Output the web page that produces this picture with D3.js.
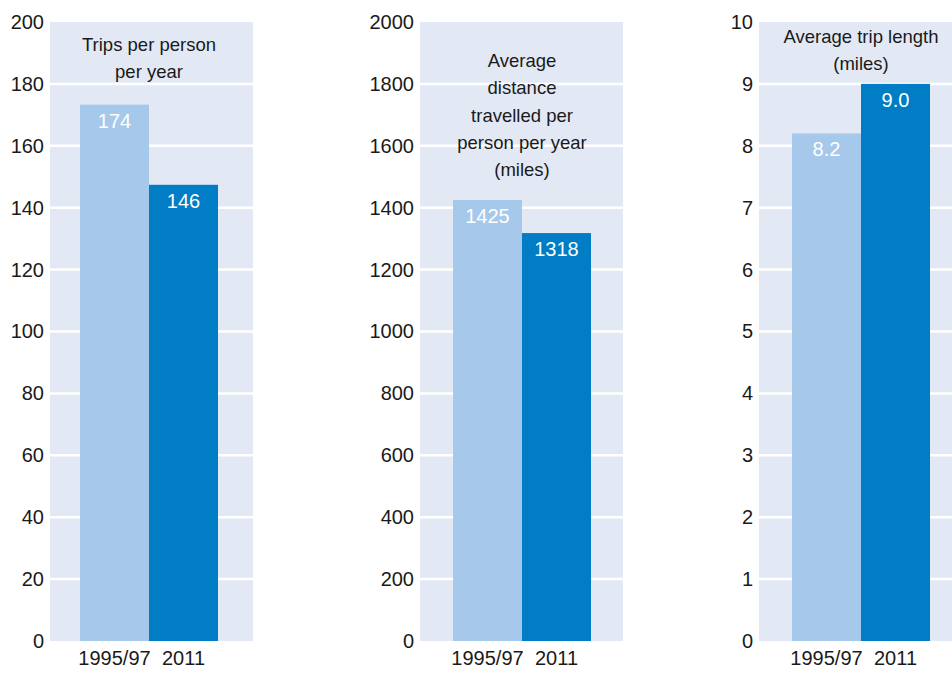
<!DOCTYPE html>
<html>
<head>
<meta charset="utf-8">
<script src="https://cdn.jsdelivr.net/npm/d3@7"></script>
<style>
  body { margin: 0; background: #fff; }
  svg { display: block; font-family: "Liberation Sans", Arial, sans-serif; }
</style>
</head>
<body>
<script>
// data
var categories = ["1995/97", "2011"];
var tripsValues = [173.3, 147.4];
var tripsLabels = ["174", "146"];
var distanceValues = [1425, 1318];
var distanceLabels = ["1425", "1318"];
var lengthValues = [8.2, 9.0];
var lengthLabels = ["8.2", "9.0"];
var tripsTicks = [0, 20, 40, 60, 80, 100, 120, 140, 160, 180, 200];
var distanceTicks = [0, 200, 400, 600, 800, 1000, 1200, 1400, 1600, 1800, 2000];
var lengthTicks = [0, 1, 2, 3, 4, 5, 6, 7, 8, 9, 10];
var tripsTitle = ["Trips per person", "per year"];
var distanceTitle = ["Average", "distance", "travelled per", "person per year", "(miles)"];
var lengthTitle = ["Average trip length", "(miles)"];

var barColors = ["#a6c8ea", "#007dc4"];

var panels = [
  {values: tripsValues, labels: tripsLabels, ticks: tripsTicks, title: tripsTitle, left: 50, barOffset: 30, titleY: 51},
  {values: distanceValues, labels: distanceLabels, ticks: distanceTicks, title: distanceTitle, left: 420, barOffset: 33, titleY: 67},
  {values: lengthValues, labels: lengthLabels, ticks: lengthTicks, title: lengthTitle, left: 759, barOffset: 33, titleY: 43}
];

var width = 952, height = 675;
var plotTop = 22, plotBottom = 641, plotWidth = 203;

var svg = d3.select("body").append("svg")
    .attr("width", width).attr("height", height);

panels.forEach(function(p) {
  var g = svg.append("g").attr("transform", "translate(" + p.left + ",0)");

  var y = d3.scaleLinear()
      .domain([p.ticks[0], p.ticks[p.ticks.length - 1]])
      .range([plotBottom, plotTop]);

  var x = d3.scaleBand()
      .domain(categories)
      .range([p.barOffset, p.barOffset + 138])
      .padding(0);

  // background
  g.append("rect")
      .attr("x", 0).attr("y", plotTop)
      .attr("width", plotWidth).attr("height", plotBottom - plotTop)
      .attr("fill", "#e3e9f4");

  // gridlines
  g.selectAll(".grid")
      .data(p.ticks.slice(1, -1))
      .enter().append("line")
      .attr("class", "grid")
      .attr("x1", 0).attr("x2", plotWidth)
      .attr("y1", function(d) { return y(d); })
      .attr("y2", function(d) { return y(d); })
      .attr("stroke", "#fff").attr("stroke-width", 2.5);

  // bars
  g.selectAll(".bar")
      .data(p.values)
      .enter().append("rect")
      .attr("class", "bar")
      .attr("x", function(d, i) { return x(categories[i]); })
      .attr("width", x.bandwidth())
      .attr("y", function(d) { return y(d); })
      .attr("height", function(d) { return plotBottom - y(d); })
      .attr("fill", function(d, i) { return barColors[i]; });

  // value labels
  g.selectAll(".val")
      .data(p.values)
      .enter().append("text")
      .attr("class", "val")
      .attr("x", function(d, i) { return x(categories[i]) + x.bandwidth() / 2; })
      .attr("y", function(d) { return y(d) + 23; })
      .attr("text-anchor", "middle")
      .attr("fill", "#fff")
      .style("font-size", "20px")
      .text(function(d, i) { return p.labels[i]; });

  // title
  var cx = p.barOffset + 69;
  g.append("text")
      .attr("text-anchor", "middle")
      .attr("fill", "#1a1a1a")
      .style("font-size", "18.5px")
      .selectAll("tspan")
      .data(p.title)
      .enter().append("tspan")
      .attr("x", cx)
      .attr("y", function(d, i) { return p.titleY + i * 27.3; })
      .text(function(d) { return d; });

  // y axis
  var yAxis = g.append("g")
      .call(d3.axisLeft(y).tickValues(p.ticks).tickSize(0).tickPadding(6).tickFormat(d3.format("d")));
  yAxis.select(".domain").remove();
  yAxis.selectAll("text")
      .attr("fill", "#1a1a1a")
      .style("font-size", "20px")
      .style("font-family", "Liberation Sans, Arial, sans-serif");

  // x axis
  var xAxis = g.append("g")
      .attr("transform", "translate(0," + plotBottom + ")")
      .call(d3.axisBottom(x).tickSize(0).tickPadding(10));
  xAxis.select(".domain").remove();
  xAxis.selectAll("text")
      .attr("fill", "#1a1a1a")
      .style("font-size", "20px")
      .style("font-family", "Liberation Sans, Arial, sans-serif");
});
</script>
</body>
</html>
